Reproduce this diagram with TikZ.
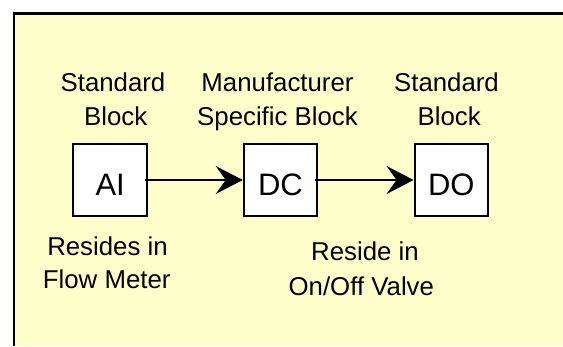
\documentclass[tikz,border=0pt]{standalone}
\usepackage{fontspec}
\setmainfont{Liberation Sans}
\usetikzlibrary{arrows.meta}
\definecolor{panelyellow}{HTML}{FFFFCC}
\tikzset{
  blockbox/.style={draw=black, fill=white, line width=2pt, minimum width=73.5pt, minimum height=72.6pt,
    inner sep=0pt, text height=30pt, text depth=0pt, font=\fontsize{31}{31}\selectfont},
  caption/.style={anchor=base, inner sep=0pt, font=\fontsize{25.8}{30}\selectfont},
  flow/.style={line width=1.7pt, -{Stealth[length=27pt, width=28pt, inset=10pt]}}
}
\begin{document}
\begin{tikzpicture}[x=1pt, y=-1pt]
\useasboundingbox (0,0) rectangle (563,346);
\fill[white] (0,0) rectangle (563,346);
\fill[panelyellow] (14.2,13.5) rectangle (563,346);
\draw[line width=2.5pt] (14.2,346) -- (14.2,13.5) -- (563,13.5);

\node[blockbox] (AI) at (110.2,180) {AI};
\node[blockbox] (DC) at (280.5,180) {DC};
\node[blockbox] (DO) at (451.3,180) {DO};

\coordinate (aistart) at ([xshift=-3pt]AI.east);
\coordinate (dcstart) at ([xshift=-3pt]DC.east);
\draw[flow] (aistart) -- (DC.west);
\draw[flow] (dcstart) -- (DO.west);

\node[caption] (s1a) at (113,91.7) {Standard};
\node[caption] (s1b) at (115.7,125) {Block};
\node[caption] (m1a) at (277.5,91.7) {Manufacturer};
\node[caption] (m1b) at (277.5,125) {Specific Block};
\node[caption] (s2a) at (446.5,91.7) {Standard};
\node[caption] (s2b) at (449.2,125) {Block};
\node[caption] (r1a) at (107.5,255) {Resides in};
\node[caption] (r1b) at (106.7,288.3) {Flow Meter};
\node[caption] (r2a) at (365,260.7) {Reside in};
\node[caption] (r2b) at (361.3,295) {On/Off Valve};
\end{tikzpicture}
\end{document}
